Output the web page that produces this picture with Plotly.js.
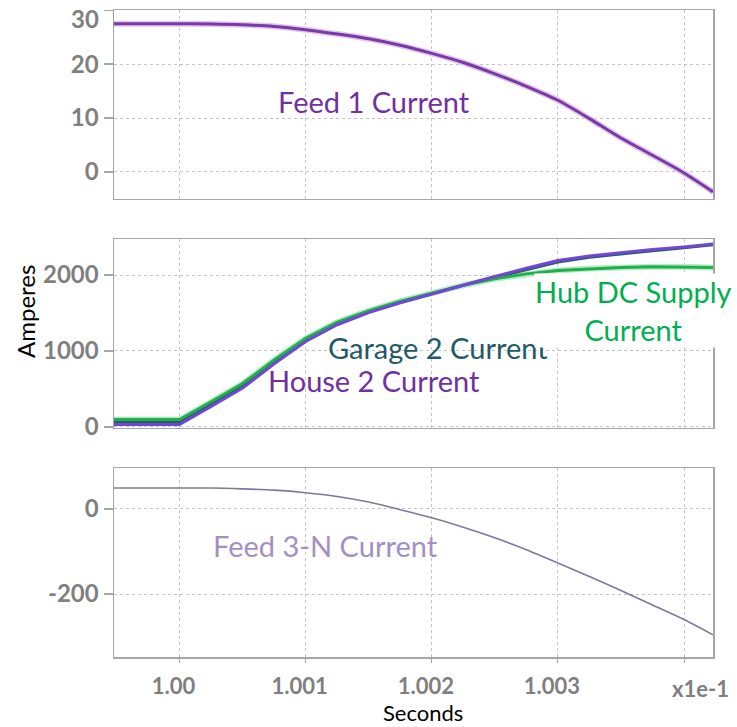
<!DOCTYPE html>
<html><head><meta charset="utf-8">
<script src="https://cdn.plot.ly/plotly-3.0.1.min.js"></script>
<style>html,body{margin:0;padding:0;background:#fff}</style>
</head><body><div id="chart" style="width:737px;height:727px"></div>
<script>
const time = [0.99948, 1.0000, 1.00025, 1.0005, 1.00075, 1.001, 1.00125, 1.0015, 1.00175, 1.002, 1.00225, 1.0025, 1.00275, 1.003, 1.00325, 1.0035, 1.00375, 1.004, 1.00423];
const feed1Current = [27.5, 27.5, 27.45, 27.3, 27.0, 26.4, 25.6, 24.7, 23.5, 22.0, 20.3, 18.2, 15.9, 13.3, 9.9, 6.3, 3.1, -0.2, -3.7];
const hubDcSupplyCurrent = [95, 95, 330, 570, 880, 1165, 1380, 1530, 1655, 1765, 1865, 1950, 2015, 2060, 2085, 2100, 2108, 2108, 2100];
const house2Current = [30, 30, 270, 510, 830, 1125, 1345, 1505, 1635, 1752, 1870, 1980, 2090, 2190, 2250, 2295, 2335, 2370, 2410];
const garage2Current = [60, 60, 300, 540, 860, 1145, 1360, 1515, 1642, 1756, 1865, 1970, 2075, 2170, 2235, 2280, 2320, 2358, 2398];
const feed3NCurrent = [49, 49, 49, 47, 44, 38, 29, 16, -2, -21, -43, -68, -96, -127, -159, -192, -226, -260, -296];
const xTickVals = [1.000, 1.001, 1.002, 1.003, 1.004];
const xTickText = ['1.00', '1.001', '1.002', '1.003', ''];
const y1TickVals = [0, 10, 20, 30];
const y1TickText = ['0', '10', '20', ''];
const y1TopLabel = '30';
const y2TickVals = [0, 1000, 2000];
const y2TickText = ['0', '1000', '2000'];
const y3TickVals = [-200, 0];
const y3TickText = ['-200', '0'];

const fam = 'Lato, "Open Sans", sans-serif';
const yTickFont = {family: fam, size: 24, color: '#7f7f7f', weight: 'bold'};
const xTickFont = {family: fam, size: 22, color: '#7f7f7f', weight: 'bold'};
const gridCommon = {showgrid: true, gridcolor: '#c4c4c4', griddash: 'dot', gridwidth: 1,
  showline: true, linecolor: '#a6a6a6', linewidth: 1.5, mirror: true, zeroline: false};
const xRange = [0.99948, 1.00423];
const yCommon = {ticks: 'outside', ticklen: 9, tickcolor: '#a6a6a6', tickwidth: 1.5, tickfont: yTickFont, ticklabeloverflow: 'allow'};

const traces = [
  {x: time, y: feed1Current, xaxis: 'x', yaxis: 'y', mode: 'lines', line: {color: '#e3c6ef', width: 6, shape: 'spline', smoothing: 0.8}, hoverinfo: 'skip'},
  {x: time, y: feed1Current, xaxis: 'x', yaxis: 'y', mode: 'lines', line: {color: '#7a3aa6', width: 3, shape: 'spline', smoothing: 0.8}, name: 'Feed 1 Current'},
  {x: time, y: hubDcSupplyCurrent, xaxis: 'x2', yaxis: 'y2', mode: 'lines', line: {color: '#b8ecc8', width: 6}, hoverinfo: 'skip'},
  {x: time, y: garage2Current, xaxis: 'x2', yaxis: 'y2', mode: 'lines', line: {color: '#2c5b68', width: 3}, name: 'Garage 2 Current'},
  {x: time, y: hubDcSupplyCurrent, xaxis: 'x2', yaxis: 'y2', mode: 'lines', line: {color: '#1fb04c', width: 3}, name: 'Hub DC Supply Current'},
  {x: time, y: house2Current, xaxis: 'x2', yaxis: 'y2', mode: 'lines', line: {color: '#7048d4', width: 3}, name: 'House 2 Current'},
  {x: time, y: feed3NCurrent, xaxis: 'x3', yaxis: 'y3', mode: 'lines', line: {color: '#7e789f', width: 1.6, shape: 'spline', smoothing: 0.8}, name: 'Feed 3-N Current'}
];

const annFont = (c) => ({family: fam, size: 29, color: c});
const layout = {
  width: 737, height: 727,
  margin: {l: 114, r: 24, t: 10, b: 70},
  paper_bgcolor: '#ffffff', plot_bgcolor: '#ffffff',
  showlegend: false,
  xaxis: Object.assign({}, gridCommon, {domain: [0, 1], anchor: 'y', range: xRange, tickvals: xTickVals, showticklabels: false, ticks: ''}),
  xaxis2: Object.assign({}, gridCommon, {domain: [0, 1], anchor: 'y2', range: xRange, tickvals: xTickVals, showticklabels: false, ticks: ''}),
  xaxis3: Object.assign({}, gridCommon, {domain: [0, 1], anchor: 'y3', range: xRange, tickvals: xTickVals, ticktext: xTickText,
    tickfont: xTickFont, ticks: 'outside', ticklen: 4, tickcolor: '#a6a6a6', ticklabelshift: -6, ticklabelstandoff: 5}),
  yaxis: Object.assign({}, gridCommon, yCommon, {domain: [0.708, 1], anchor: 'x', range: [-5, 30.05], tickvals: y1TickVals, ticktext: y1TickText}),
  yaxis2: Object.assign({}, gridCommon, yCommon, {domain: [0.354, 0.646], anchor: 'x2', range: [-15, 2474], tickvals: y2TickVals, ticktext: y2TickText}),
  yaxis3: Object.assign({}, gridCommon, yCommon, {domain: [0, 0.2921], anchor: 'x3', range: [-348, 96], tickvals: y3TickVals, ticktext: y3TickText}),
  annotations: [
    {xref: 'paper', yref: 'y', x: (101 - 114) / 599, y: 30, xanchor: 'right', yanchor: 'top', yshift: 8,
      text: y1TopLabel, showarrow: false, font: yTickFont},
    {xref: 'x', yref: 'y', x: 1.00154, y: 13.1, text: 'Feed 1 Current', showarrow: false, font: annFont('#7030a0')},
    {xref: 'x2', yref: 'y2', x: 1.002046, y: 1050, text: 'Garage 2 Current', showarrow: false, font: annFont('#215968')},
    {xref: 'x2', yref: 'y2', x: 1.00154, y: 605, text: 'House 2 Current', showarrow: false, font: annFont('#7030a0')},
    {xref: 'x2', yref: 'y2', x: 1.003601, y: 1530, text: 'Hub DC Supply<br>Current', showarrow: false, font: annFont('#00b050'),
      bgcolor: '#ffffff', borderpad: 0},
    {xref: 'x3', yref: 'y3', x: 1.001158, y: -85, text: 'Feed 3-N Current', showarrow: false, font: annFont('#a48fc4')},
    {xref: 'paper', yref: 'paper', x: (700 - 114) / 599, y: (657 - 688) / 647, xanchor: 'center', yanchor: 'middle',
      text: 'x1e-1', showarrow: false, font: xTickFont},
    {xref: 'paper', yref: 'paper', x: (423 - 114) / 599, y: (657 - 712) / 647, xanchor: 'center', yanchor: 'middle',
      text: 'Seconds', showarrow: false, font: {family: fam, size: 22, color: '#000000'}},
    {xref: 'paper', yref: 'paper', x: (25 - 114) / 599, y: (657 - 312) / 647, xanchor: 'center', yanchor: 'middle',
      text: 'Amperes', showarrow: false, textangle: -90, font: {family: fam, size: 24, color: '#000000'}}
  ]
};

Plotly.newPlot('chart', traces, layout, {staticPlot: true, displayModeBar: false});
</script>
</body></html>
